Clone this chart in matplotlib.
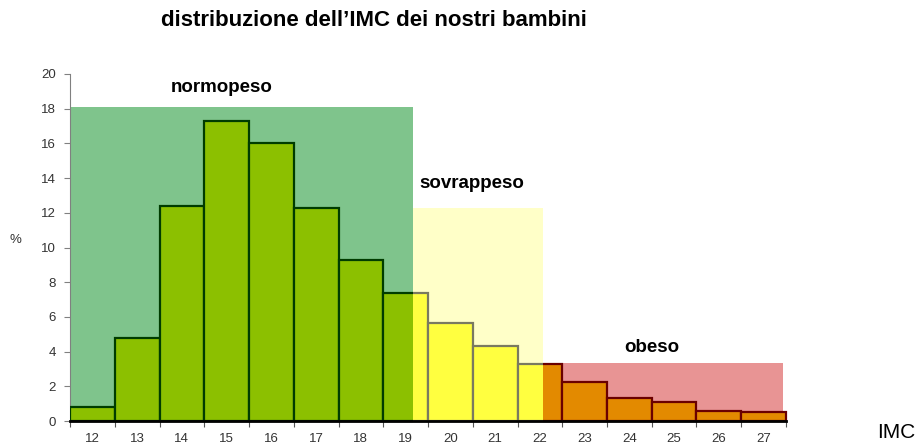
import matplotlib.pyplot as plt
from matplotlib.patches import Rectangle

plt.rcParams['font.family'] = ['Liberation Sans', 'DejaVu Sans']

# IMC classes and percentages
imc = [12, 13, 14, 15, 16, 17, 18, 19, 20, 21, 22, 23, 24, 25, 26, 27]
percent = [0.8, 4.8, 12.4, 17.3, 16.0, 12.3, 9.3, 7.4, 5.65, 4.3, 3.3, 2.25, 1.35, 1.1, 0.6, 0.5]

# background bands (weight classes)
band_names = ["normopeso", "sovrappeso", "obeso"]
band_start = [11.5, 19.17, 22.07]
band_end = [19.17, 22.07, 27.43]
band_height = [18.1, 12.3, 3.35]
band_label_x = [14.9, 20.48, 24.5]
band_label_y = [19.2, 13.7, 4.25]

band_colors = ["#7fc48c", "#ffffc8", "#e89494"]
bar_colors = ["#8cc000", "#ffff40", "#e38a00"]
edge_colors = ["#003c00", "#7a7a60", "#6a0000"]

fig = plt.figure(figsize=(9.2, 4.47), dpi=100)
ax = fig.add_axes([70 / 920, 26 / 447, 716 / 920, 347 / 447])

for i in range(len(band_names)):
    ax.bar(band_start[i], band_height[i], width=band_end[i] - band_start[i],
           align='edge', color=band_colors[i], linewidth=0, zorder=1)
    ax.text(band_label_x[i], band_label_y[i], band_names[i], ha='center', va='center',
            fontsize=13.5, fontweight='bold', zorder=5)

# bars: same bars drawn once per band, clipped to that band
for i in range(len(band_names)):
    x0 = band_start[i]
    x1 = band_end[i] if i < len(band_names) - 1 else 28
    clip = Rectangle((x0, -1), x1 - x0, 30, transform=ax.transData)
    bars = ax.bar(imc, percent, width=1.0, color=bar_colors[i],
                  edgecolor=edge_colors[i], linewidth=1.6, zorder=3)
    for p in bars:
        p.set_clip_path(clip)

ax.set_xlim(11.5, 27.5)
ax.set_ylim(0, 20)
ax.set_yticks(range(0, 21, 2))
ax.set_xticks([v - 0.5 for v in imc] + [imc[-1] + 0.5])
ax.set_xticklabels([])
ax.set_xticks(imc, minor=True)
ax.set_xticklabels([str(v) for v in imc], minor=True)
ax.tick_params(axis='x', which='minor', length=0, pad=9, labelsize=9.5, labelcolor='#333333')
ax.tick_params(axis='x', which='major', length=4, color='#555555')
ax.tick_params(axis='y', length=4, color='#808080', labelsize=9.5, labelcolor='#333333', pad=6)

for s in ['top', 'right']:
    ax.spines[s].set_visible(False)
ax.spines['left'].set_color('#808080')
ax.spines['bottom'].set_color('black')
ax.spines['bottom'].set_linewidth(2)
ax.spines['bottom'].set_zorder(4)

fig.text(374 / 920, 1 - 21 / 447, "distribuzione dell\u2019IMC dei nostri bambini",
         ha='center', va='center', fontsize=16, fontweight='bold')
fig.text(15 / 920, 1 - 240 / 447, "%", ha='center', va='center', fontsize=9.5, color='#333333')
fig.text(896 / 920, 1 - 432 / 447, "IMC", ha='center', va='center', fontsize=15)

fig.savefig("out.png", dpi=100)
